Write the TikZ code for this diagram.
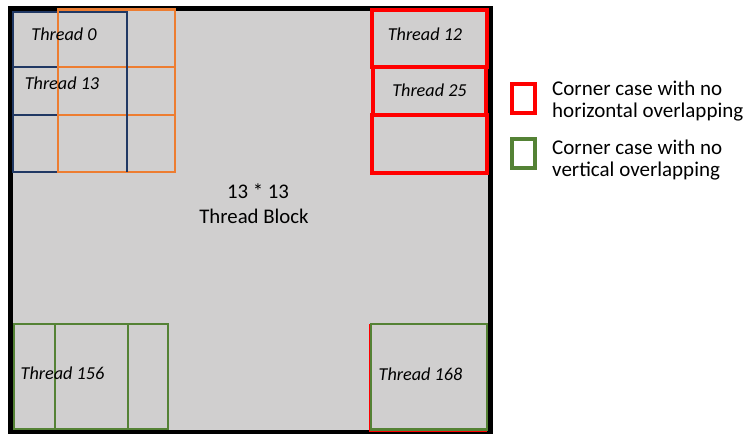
\documentclass[tikz,border=0pt]{standalone}
\usepackage{fontspec}
\setmainfont{Carlito}
\definecolor{blockgray}{HTML}{D0CFCF}
\definecolor{gridnavy}{HTML}{203864}
\definecolor{gridorange}{HTML}{ED7D31}
\definecolor{casered}{HTML}{FF0000}
\definecolor{casegreen}{HTML}{548235}
\begin{document}
\begin{tikzpicture}[x=1pt,y=-1pt,
  navyline/.style={draw=gridnavy,line width=2.3pt},
  orangeline/.style={draw=gridorange,line width=2.8pt},
  redline/.style={draw=casered,line width=3.2pt},
  greenline/.style={draw=casegreen,line width=2.8pt},
  threadlabel/.style={font=\fontsize{18.2}{20}\selectfont\itshape,anchor=base,inner sep=0pt},
  blocklabel/.style={font=\fontsize{20.8}{24}\selectfont,anchor=base,inner sep=0pt},
  legendtext/.style={font=\fontsize{21}{22}\selectfont,anchor=base west,inner sep=0pt}]
\useasboundingbox (0,0) rectangle (748,434);
\fill[white] (0,0) rectangle (748,434);

% thread block
\draw[line width=5pt,fill=blockgray] (10,8) rectangle (490.5,432);

% top-left tile grid
\draw[navyline] (13,12) rectangle (127,172);
\draw[navyline] (13,67) -- (58,67) (13,115) -- (58,115);
\draw[orangeline] (58,9.5) rectangle (175,172);
\draw[orangeline] (58,67) -- (175,67) (58,115) -- (175,115);
\draw[navyline] (127,12) -- (127,172);

% top-right tiles
\draw[redline] (372,10) rectangle (487,67);
\draw[redline] (373,67) rectangle (486,115);
\draw[redline] (372,115) rectangle (487,173);

% bottom-left tiles
\draw[greenline] (14,324) rectangle (168,429);
\draw[greenline] (55,324) -- (55,429) (128,324) -- (128,429);

% bottom-right tile
\draw[draw=casered,line width=1pt] (369.5,324) -- (369.5,431) -- (487,431);
\draw[greenline] (371,324) rectangle (487,429.5);

% thread labels
\node[threadlabel] (t0) at (64,40) {Thread 0};
\node[threadlabel] (t13) at (62,89) {Thread 13};
\node[threadlabel] (t12) at (425,40) {Thread 12};
\node[threadlabel] (t25) at (429.5,96.5) {Thread 25};
\node[threadlabel] (t156) at (62.5,379.5) {Thread 156};
\node[threadlabel] (t168) at (420.5,380) {Thread 168};

% block caption
\node[blocklabel] (dims) at (258,198) {13 * 13};
\node[blocklabel] (blk) at (254,223) {Thread Block};

% legend
\draw[draw=casered,line width=3.5pt] (512,84) rectangle (535,113);
\draw[draw=casegreen,line width=3.5pt] (512,139) rectangle (535,168);
\node[legendtext] (lr1) at (552,95) {Corner case with no};
\node[legendtext] (lr2) at (552,117) {horizontal overlapping};
\node[legendtext] (lg1) at (552,154) {Corner case with no};
\node[legendtext] (lg2) at (552,176) {vertical overlapping};
\end{tikzpicture}
\end{document}
